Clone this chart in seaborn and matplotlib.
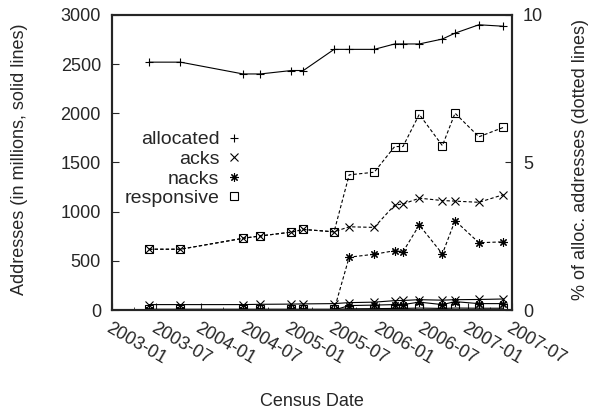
import pandas as pd
import matplotlib
matplotlib.use("Agg")
import matplotlib.pyplot as plt
import matplotlib.dates as mdates
from matplotlib.lines import Line2D
import seaborn as sns

# census dates
census_dates = ["2003-06-02", "2003-10-09", "2004-06-22", "2004-09-01",
                "2005-01-07", "2005-02-25", "2005-07-01", "2005-09-01",
                "2005-12-13", "2006-03-07", "2006-04-10", "2006-06-16",
                "2006-09-19", "2006-11-10", "2007-02-16", "2007-05-28"]

# millions of addresses (solid lines, left axis)
allocated = [2520, 2520, 2400, 2400, 2435, 2435, 2650, 2650,
             2650, 2705, 2705, 2705, 2755, 2815, 2900, 2885]
acks = [55, 55, 55, 58, 60, 62, 65, 75, 80, 95, 97, 105, 100, 105, 107, 112]
nacks = [0, 0, 0, 0, 0, 0, 0, 45, 50, 55, 55, 80, 55, 85, 65, 65]
responsive = [8, 8, 8, 8, 8, 8, 8, 12, 14, 16, 16, 20, 16, 20, 18, 18]

# percent of allocated addresses (dotted lines, right axis)
acks_pct = [2.06, 2.06, 2.43, 2.51, 2.64, 2.73, 2.65, 2.82,
            2.80, 3.56, 3.59, 3.79, 3.71, 3.69, 3.65, 3.91]
nacks_pct = [0, 0, 0, 0, 0, 0, 0, 1.79, 1.89, 2.01, 1.97, 2.88, 1.90, 3.03, 2.28, 2.31]
responsive_pct = [2.06, 2.06, 2.43, 2.51, 2.64, 2.73, 2.65, 4.58,
                  4.67, 5.54, 5.54, 6.63, 5.57, 6.67, 5.87, 6.19]

x_ticks = ["2003-01", "2003-07", "2004-01", "2004-07", "2005-01",
           "2005-07", "2006-01", "2006-07", "2007-01", "2007-07"]

dates = pd.to_datetime(census_dates)

sns.set_style("ticks")
plt.rcParams["font.family"] = ["Liberation Sans", "DejaVu Sans"]
plt.rcParams["font.size"] = 13

fig = plt.figure(figsize=(5.93, 4.15), dpi=100)
ax = fig.add_axes([0.189, 0.253, 0.674, 0.711])
ax2 = ax.twinx()

markers = {"allocated": "+", "acks": "x", "nacks": (8, 2, 0), "responsive": "s"}
solid = {"allocated": allocated, "acks": acks, "nacks": nacks, "responsive": responsive}
dotted = {"acks": acks_pct, "nacks": nacks_pct, "responsive": responsive_pct}

for name, vals in solid.items():
    sns.lineplot(x=dates, y=vals, ax=ax, color="black", lw=0.8,
                 marker=markers[name], markersize=6, mec="black",
                 mfc="none", mew=0.8)

for name, vals in dotted.items():
    sns.lineplot(x=dates, y=vals, ax=ax2, color="black", lw=0.8,
                 linestyle=(0, (3, 2)), marker=markers[name], markersize=6,
                 mec="black", mfc="none", mew=0.8)

ax.set_ylim(0, 3000)
ax2.set_ylim(0, 10)
ax.set_yticks([0, 500, 1000, 1500, 2000, 2500, 3000])
ax2.set_yticks([0, 5, 10])

tick_dates = pd.to_datetime(x_ticks)
ax.set_xlim(tick_dates[0], tick_dates[-1])
ax.set_xticks(tick_dates)
ax.set_xticklabels(x_ticks, rotation=-30, ha="left", va="top",
                   rotation_mode="anchor")
ax.xaxis.set_minor_locator(mdates.MonthLocator(bymonth=[4, 10]))

ax.tick_params(axis="both", which="both", direction="in", labelsize=13)
ax.tick_params(axis="x", which="major", length=5, pad=7)
ax.tick_params(axis="x", which="minor", length=2)
ax.tick_params(axis="y", length=5, pad=8)
ax2.tick_params(axis="y", direction="in", length=5, labelsize=13, pad=8)

for a in (ax, ax2):
    for s in a.spines.values():
        s.set_linewidth(1.5)
        s.set_visible(True)

ax.set_xlabel("Census Date", fontsize=13)
ax.xaxis.set_label_coords(0.5, -0.28)
ax.set_ylabel("Addresses (in millions, solid lines)", fontsize=13)
ax.yaxis.set_label_coords(-0.21, 0.51)
ax2.set_ylabel("% of alloc. addresses (dotted lines)", fontsize=13)
ax2.yaxis.set_label_coords(1.15, 0.51)

handles = [Line2D([], [], ls="none", marker=markers[n], color="black",
                  mfc="none", markersize=6, mew=0.8) for n in solid]
ax.legend(handles, list(solid.keys()), markerfirst=False, frameon=False,
          loc="center", bbox_to_anchor=(0.18, 0.478), fontsize=14,
          handlelength=1.0, handletextpad=0.25, labelspacing=0.1,
          borderpad=0.2)

fig.savefig("out.png", dpi=100)
